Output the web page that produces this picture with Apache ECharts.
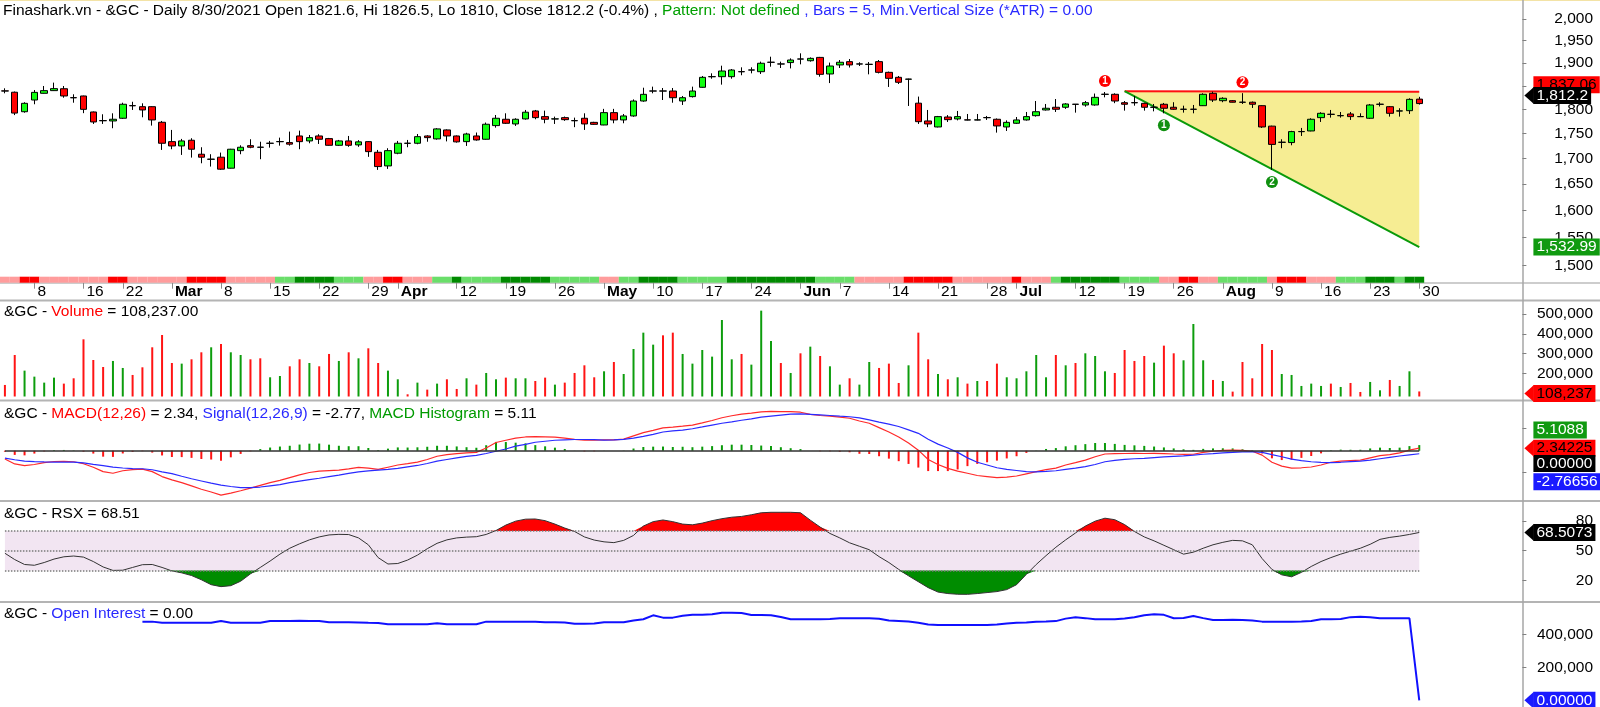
<!DOCTYPE html>
<html><head><meta charset="utf-8">
<script src="https://cdn.jsdelivr.net/npm/echarts@6/dist/echarts.min.js"></script>
<style>html,body{margin:0;padding:0;background:#fff}#c{width:1600px;height:707px}</style>
</head><body><div id="c"></div>
<script>
const FONT = '"Liberation Sans", Arial, Helvetica, sans-serif';
const FS = 15.5;

const dates = ['2/3','2/4','2/5','2/8','2/9','2/10','2/11','2/12','2/16','2/17','2/18','2/19','2/22','2/23','2/24','2/25','2/26',
'3/1','3/2','3/3','3/4','3/5','3/8','3/9','3/10','3/11','3/12','3/15','3/16','3/17','3/18','3/19','3/22','3/23','3/24','3/25','3/26','3/29','3/30','3/31',
'4/1','4/5','4/6','4/7','4/8','4/9','4/12','4/13','4/14','4/15','4/16','4/19','4/20','4/21','4/22','4/23','4/26','4/27','4/28','4/29','4/30',
'5/3','5/4','5/5','5/6','5/7','5/10','5/11','5/12','5/13','5/14','5/17','5/18','5/19','5/20','5/21','5/24','5/25','5/26','5/27','5/28',
'6/1','6/2','6/3','6/4','6/7','6/8','6/9','6/10','6/11','6/14','6/15','6/16','6/17','6/18','6/21','6/22','6/23','6/24','6/25','6/28','6/29','6/30',
'7/1','7/2','7/6','7/7','7/8','7/9','7/12','7/13','7/14','7/15','7/16','7/19','7/20','7/21','7/22','7/23','7/26','7/27','7/28','7/29','7/30',
'8/2','8/3','8/4','8/5','8/6','8/9','8/10','8/11','8/12','8/13','8/16','8/17','8/18','8/19','8/20','8/23','8/24','8/25','8/26','8/27','8/30'];
const blankBars = 10;

const tickDates = ['2/8','2/16','2/22','3/1','3/8','3/15','3/22','3/29','4/1','4/12','4/19','4/26','5/3','5/10','5/17','5/24','6/1','6/7','6/14','6/21','6/28','7/1','7/12','7/19','7/26','8/2','8/9','8/16','8/23','8/30'];
const tickTexts = ['8','16','22','Mar','8','15','22','29','Apr','12','19','26','May','10','17','24','Jun','7','14','21','28','Jul','12','19','26','Aug','9','16','23','30'];

const opens = [1839.2,1836.3,1795.0,1819.7,1834.0,1839.7,1843.8,1824.8,1828.3,1794.5,
1776.6,1775.8,1781.4,1807.9,1805.6,1805.6,1773.1,1733.5,1724.8,1736.3,
1708.2,1698.1,1702.3,1680.6,1715.4,1725.4,1722.4,1730.0,1733.3,1731.6,
1745.0,1734.9,1745.0,1739.6,1726.1,1734.9,1726.9,1733.5,1712.1,1685.1,
1710.2,1730.4,1730.2,1745.0,1739.0,1757.3,1745.0,1733.5,1745.0,1738.3,
1766.2,1779.3,1769.6,1780.0,1796.6,1784.8,1779.8,1782.7,1776.6,1781.4,
1772.9,1767.5,1793.1,1777.9,1786.2,1817.6,1838.7,1839.1,1838.9,1817.6,
1826.9,1846.9,1869.7,1869.9,1869.9,1881.0,1884.3,1880.8,1901.4,1898.0,
1900.9,1909.0,1905.0,1912.4,1875.8,1895.7,1903.0,1897.6,1896.8,1903.0,
1879.4,1868.5,1864.3,1813.0,1775.8,1763.4,1784.0,1780.0,1778.1,1777.7,
1782.9,1779.3,1763.4,1771.0,1777.9,1786.8,1798.7,1804.4,1804.4,1810.9,
1809.2,1809.2,1831.7,1831.9,1814.0,1814.2,1812.7,1804.2,1810.7,1804.4,
1800.0,1800.0,1807.7,1834.0,1818.3,1818.3,1815.2,1815.0,1807.7,1765.1,
1732.0,1731.6,1753.7,1755.2,1782.7,1789.8,1786.6,1790.3,1785.0,1781.4,
1810.5,1805.6,1796.4,1797.2,1821.6];
const highs = [1844.7,1837.8,1815.0,1841.1,1849.7,1857.0,1849.7,1831.9,1829.0,1795.5,
1789.7,1791.7,1814.0,1816.0,1812.7,1806.5,1775.8,1757.3,1739.0,1740.4,
1722.2,1708.2,1711.5,1719.0,1726.1,1738.3,1733.3,1734.9,1741.6,1753.9,
1755.9,1747.0,1748.5,1741.0,1736.9,1745.0,1736.5,1734.5,1716.8,1720.2,
1734.9,1736.9,1749.0,1746.5,1761.0,1758.5,1746.0,1751.5,1752.0,1772.5,
1788.2,1791.7,1781.4,1798.7,1798.7,1797.3,1784.8,1785.0,1782.7,1791.7,
1774.0,1801.0,1801.0,1790.3,1821.0,1846.0,1848.3,1845.4,1845.4,1828.3,
1848.3,1871.4,1877.2,1894.0,1886.7,1890.4,1890.4,1903.0,1914.0,1903.0,
1910.3,1921.5,1912.4,1913.5,1900.9,1906.6,1908.8,1901.6,1902.2,1906.6,
1881.0,1871.4,1865.5,1827.0,1798.7,1786.2,1788.0,1796.6,1790.3,1790.3,
1786.2,1781.0,1777.0,1784.0,1794.5,1817.6,1811.3,1821.8,1813.0,1811.0,
1817.6,1833.5,1836.8,1834.0,1817.6,1828.3,1814.0,1811.3,1813.5,1815.0,
1807.7,1809.2,1834.0,1837.5,1825.5,1819.5,1834.3,1816.5,1808.5,1766.0,
1738.3,1755.5,1761.4,1781.4,1794.0,1798.7,1794.5,1794.5,1791.7,1811.3,
1815.0,1807.0,1802.3,1823.4,1826.5];
const lows = [1834.0,1788.0,1793.0,1810.7,1833.5,1839.0,1824.6,1814.0,1792.0,1769.6,
1769.6,1760.8,1780.0,1798.7,1783.4,1766.2,1716.8,1718.2,1706.8,1701.5,
1690.3,1683.8,1677.3,1680.0,1708.2,1720.2,1698.3,1721.4,1725.4,1725.4,
1718.2,1730.2,1728.8,1725.5,1724.8,1723.0,1723.0,1703.0,1677.3,1679.2,
1708.2,1722.2,1728.2,1733.3,1737.5,1734.0,1731.5,1724.8,1735.5,1737.5,
1762.0,1769.6,1765.5,1778.5,1779.3,1771.0,1769.6,1776.0,1763.0,1757.3,
1768.0,1767.0,1771.0,1771.0,1784.5,1816.0,1834.0,1819.7,1814.0,1809.2,
1825.0,1846.0,1865.5,1852.6,1865.5,1873.0,1877.2,1875.8,1891.8,1888.9,
1888.0,1897.0,1903.0,1869.9,1856.0,1888.9,1890.0,1893.3,1875.0,1877.0,
1847.6,1854.0,1807.1,1769.6,1763.0,1762.5,1773.7,1777.0,1777.0,1777.0,
1777.9,1751.8,1755.2,1769.6,1776.6,1784.8,1797.5,1794.5,1801.0,1793.1,
1805.6,1807.7,1825.4,1813.0,1797.3,1807.7,1797.3,1795.8,1791.7,1799.0,
1793.1,1791.7,1807.0,1815.5,1815.0,1814.5,1811.3,1802.9,1761.4,1677.3,
1720.2,1726.1,1745.0,1754.5,1773.7,1782.7,1782.7,1777.9,1784.0,1780.0,
1806.0,1784.8,1784.8,1790.3,1810.0];
const closes = [1838.8,1792.2,1812.7,1836.0,1839.7,1844.0,1828.3,1824.4,1800.0,1773.7,
1776.2,1779.3,1810.7,1807.5,1798.7,1777.9,1730.2,1724.8,1734.9,1718.2,
1702.3,1698.5,1678.7,1718.2,1722.2,1722.2,1722.0,1730.4,1733.7,1728.4,
1733.5,1741.6,1738.3,1726.1,1734.9,1726.1,1733.0,1713.4,1683.8,1715.4,
1730.2,1730.0,1743.6,1741.6,1759.4,1745.0,1733.0,1749.0,1736.9,1769.0,
1781.4,1771.0,1779.3,1794.0,1782.7,1779.3,1780.2,1778.5,1776.2,1769.6,
1768.8,1793.1,1777.9,1786.2,1817.6,1831.8,1839.1,1838.7,1824.6,1824.6,
1838.9,1868.5,1870.1,1882.3,1884.5,1880.6,1884.7,1899.4,1901.8,1897.6,
1906.6,1908.6,1910.3,1875.0,1893.3,1901.6,1895.7,1898.0,1897.2,1879.4,
1866.3,1857.7,1864.7,1774.3,1769.6,1784.8,1778.5,1784.8,1777.7,1778.1,
1782.5,1765.5,1772.9,1777.9,1784.8,1795.0,1802.3,1800.2,1811.3,1810.5,
1814.0,1825.4,1832.1,1817.6,1810.7,1813.8,1804.4,1804.6,1802.3,1800.2,
1800.4,1800.4,1831.9,1819.7,1823.4,1815.0,1814.8,1810.7,1763.4,1727.9,
1732.4,1753.9,1754.1,1779.3,1791.7,1789.4,1787.0,1784.8,1784.6,1809.2,
1810.9,1791.7,1796.8,1821.1,1812.2];

const volumes = [141000,292700,213500,183100,152800,178100,147800,174700,371900,267400,
232000,262400,227000,191600,230300,331500,393800,252200,248900,270800,
306200,331500,348300,306200,292700,270800,275800,179800,186500,235400,
270800,252200,235400,297800,262400,306200,275800,326400,252200,213500,
169700,93800,152800,117400,147800,169700,120800,174700,142700,201700,
169700,178100,174700,174700,161200,178100,142700,152800,201700,240400,
179800,210100,257300,196600,323000,405600,344900,392100,405600,297800,
248900,318000,284300,469700,270800,297800,243800,516900,363500,252200,
201700,301100,334800,287600,235400,142700,174700,142700,257300,227000,
248900,151100,240400,405600,270800,196600,169700,179800,147800,161200,
161200,248900,179800,174700,210100,292700,179800,292700,240400,252200,
301100,287600,210100,201700,318000,262400,287600,253900,339900,301100,
265700,449400,265700,166300,161200,107300,257300,174700,348300,318000,
196600,191600,136000,147800,136000,147800,130900,151100,105600,156200,
114000,166300,136000,210100,108237];

const macd = [-7.6,-12.0,-13.6,-12.5,-10.8,-9.8,-9.6,-10.0,-11.8,-15.0,
-19.0,-20.5,-18.2,-17.2,-16.8,-19.0,-23.5,-26.5,-29.0,-32.0,
-35.0,-37.5,-40.3,-38.5,-36.4,-34.0,-31.5,-29.0,-27.0,-24.5,
-22.0,-19.8,-18.5,-18.0,-17.6,-16.5,-15.1,-15.8,-17.0,-15.0,
-13.0,-11.8,-10.3,-8.0,-5.0,-3.5,-2.6,-2.0,-1.5,2.5,
7.5,9.5,11.5,12.5,12.8,12.6,12.3,11.5,10.3,9.6,
9.5,9.8,9.9,10.5,13.5,16.5,18.5,20.8,21.5,22.3,
23.2,25.3,27.5,30.0,31.8,33.2,34.2,35.3,35.8,35.6,
35.5,35.0,33.0,32.0,31.5,30.5,29.5,27.0,25.0,21.0,
17.0,12.5,7.0,0.5,-8.0,-12.5,-16.0,-18.5,-20.5,-22.5,
-23.5,-24.5,-24.0,-23.0,-21.0,-19.0,-17.2,-15.8,-13.0,-10.8,
-8.5,-5.5,-3.0,-2.6,-2.5,-2.4,-2.5,-2.4,-2.6,-3.0,
-3.3,-3.2,-1.5,-0.5,0.3,0.6,0.3,-0.5,-4.0,-10.5,
-14.0,-15.8,-15.5,-14.8,-13.0,-10.5,-9.5,-9.0,-8.5,-6.5,
-4.5,-3.5,-2.0,0.5,2.34];
const signal = [-6.7,-8.2,-9.4,-9.9,-10.2,-10.3,-10.3,-10.3,-11.0,-12.4,
-13.6,-14.9,-15.7,-16.2,-16.4,-17.3,-19.2,-20.8,-23.2,-25.5,
-27.5,-29.5,-31.2,-32.5,-33.5,-33.5,-33.0,-31.9,-30.8,-29.0,
-27.6,-26.2,-25.0,-23.5,-22.1,-20.6,-19.2,-18.3,-17.6,-16.9,
-16.0,-14.7,-13.4,-11.6,-9.5,-8.0,-6.5,-5.2,-4.2,-2.5,
-0.5,1.6,4.2,5.8,7.7,8.6,9.5,9.9,10.2,10.2,
10.0,9.7,9.9,10.3,11.5,13.1,14.8,17.0,18.1,18.7,
20.0,21.6,23.3,25.0,26.3,27.7,29.0,30.6,31.5,32.4,
33.2,33.5,33.0,32.5,32.0,31.4,30.9,29.8,28.0,26.0,
24.2,22.0,19.0,15.8,10.5,6.0,2.5,-1.5,-6.5,-10.5,
-13.0,-15.5,-17.0,-18.0,-19.0,-19.2,-18.8,-18.2,-17.0,-15.8,
-14.5,-12.5,-10.0,-8.8,-7.8,-7.3,-6.9,-6.2,-5.6,-5.1,
-4.6,-4.0,-3.2,-2.6,-1.9,-1.5,-1.0,-0.9,-1.5,-3.6,
-5.5,-7.6,-9.0,-10.0,-10.6,-10.9,-10.5,-9.9,-9.4,-8.6,
-7.3,-6.0,-4.8,-3.7,-2.77];

const rsx = [47.4,41.0,36.0,35.2,38.0,41.5,43.8,44.6,43.5,39.0,
33.5,30.0,30.2,33.0,35.8,36.0,33.0,29.5,27.5,24.8,
20.5,15.5,13.5,14.5,19.0,26.5,33.0,39.5,46.5,52.5,
57.0,61.0,64.0,66.0,66.6,66.4,63.0,56.0,43.0,36.5,
37.0,40.5,45.5,52.0,57.5,61.0,63.0,63.8,64.2,66.5,
70.5,76.0,80.0,82.0,82.2,80.5,77.0,73.0,69.5,64.0,
60.8,59.0,58.2,60.5,65.5,75.0,79.5,81.2,79.5,77.0,
76.3,78.0,80.5,82.5,84.0,84.8,86.5,88.5,89.0,89.0,
89.0,88.5,81.0,74.0,67.5,63.0,58.0,54.5,51.0,44.0,
38.0,31.0,24.5,18.5,12.5,8.0,6.5,5.8,5.7,6.5,
7.5,8.5,10.5,15.5,26.0,36.0,45.0,53.5,61.0,68.0,
75.0,80.0,83.0,81.5,76.5,69.5,64.0,60.0,55.5,51.0,
46.5,48.5,52.5,56.0,58.5,60.5,60.0,56.0,42.0,31.0,
25.5,23.5,28.0,34.0,39.0,43.0,46.5,49.5,52.5,56.5,
61.5,63.5,64.8,66.5,68.51];
const rsxUpper = 70, rsxMid = 50, rsxLower = 30;

const openInterest = [null,null,null,null,null,null,null,null,null,null,null,null,null,null,
476800,476800,469700,469700,469700,469700,469700,470000,480800,469700,469700,469700,470500,
480800,480800,480800,481500,481000,480000,472700,472700,472700,472000,469700,469000,
460600,460600,460600,460600,461000,466700,460600,460600,460600,461000,
476800,476800,476800,476800,476800,476000,472700,472700,472000,464600,464600,465000,
472700,472700,472700,484000,490900,515000,501000,501000,512000,519000,519000,521000,
531000,531000,529000,517000,517000,516000,505000,491000,491000,491000,491000,493000,
497000,497000,497000,497000,494000,483000,481000,478000,470000,460000,
456600,456600,456600,456600,456600,457000,459000,466000,470700,472000,476800,477000,480000,
495000,503000,498000,491000,491000,491000,496000,503000,516000,521000,518000,497000,499000,511000,498000,
486900,486900,488000,486900,484000,476800,476800,476800,476800,477000,480000,
491000,491000,493000,504000,507000,503000,497000,497000,497000,497000,0];

// ribbon state per bar: 0 light red, 1 red, 2 light green, 3 dark green
const ribbon = [0,0,1,1,0,0,0,0,0,0,0,1,1,0,0,0,0,0,0,1,1,1,1,0,0,0,0,0,2,2,3,3,3,3,2,2,2,0,0,1,1,0,0,0,2,2,3,2,2,2,2,
3,3,3,3,3,2,2,2,2,2,0,0,2,2,3,3,3,3,2,2,2,2,2,3,3,3,3,3,3,3,3,3,2,2,2,2,0,0,0,0,0,1,1,1,1,1,0,0,0,0,0,0,1,0,0,0,2,
3,3,3,3,3,3,2,2,2,2,0,0,1,1,0,0,2,2,2,2,2,0,1,1,1,0,0,0,2,2,2,3,3,3,2,3,3];
const ribbonColors = ['#ff9c9c','#ff0000','#6ade6a','#008a00'];

// pattern (triangle) definition
const patternStart = 114, patternEnd = 144;
const patternApex = 1838.5, patternUpperEnd = 1837.06, patternLowerEnd = 1532.99;
const patternHighIdx = [112, 126];
const patternLowIdx = [118, 129];

const priceTicks = [1500,1550,1600,1650,1700,1750,1800,1850,1900,1950,2000];
const volumeTicks = [200000,300000,400000,500000];
const macdTicks = [-20, 20];
const rsxTicks = [20,50,80];
const oiTicks = [200000,400000];

// ---------- build ----------
const N = dates.length;
const cats = dates.concat(Array.from({length: blankBars}, (_, k) => 'blank' + k));
const fmt = v => Math.round(v).toLocaleString('en-US');
const hist = macd.map((m, i) => +(m - signal[i]).toFixed(3));
const upBar = closes.map((c, i) => c >= opens[i]);

const L = -4, R = 77.6;
const labelMargin = 70.6;
const tagDist = 11;
const axisTxt = {fontSize: FS, color: '#000', fontFamily: FONT};

function tagSeries(xi, yi, items) {
  return {
    type: 'line', xAxisIndex: xi, yAxisIndex: yi, silent: true, symbol: 'none', clip: false, z: 10,
    data: dates.map(() => null),
    markLine: {
      silent: true, animation: false, symbol: ['none', 'none'], z: 10,
      lineStyle: {width: 0, color: 'rgba(0,0,0,0)'},
      label: {show: true, position: 'end', distance: tagDist, fontSize: FS, fontFamily: FONT,
              padding: [2, 3, 0, 3], lineHeight: 15},
      data: items.map(t => ({yAxis: t.v, label: {formatter: t.text, backgroundColor: t.bg, color: t.fg, offset: [0, t.dy || 0]}}))
    }
  };
}

const xAxes = [0,1,2,3,4,5].map(k => {
  const ax = {type: 'category', gridIndex: k, data: cats, boundaryGap: true, show: k === 1};
  if (k === 1) {
    const isTick = (idx) => tickDates.indexOf(cats[idx]) >= 0;
    ax.axisLine = {show: false};
    ax.axisTick = {show: true, alignWithLabel: true, interval: (idx) => isTick(idx), length: 6, lineStyle: {color: '#8a8a8a'}};
    ax.axisLabel = {show: true, interval: (idx) => isTick(idx), align: 'left', margin: 1, padding: [0, 0, 0, 3],
      fontSize: FS, color: '#000', fontFamily: FONT,
      formatter: (val) => { const t = tickTexts[tickDates.indexOf(val)]; return isNaN(+t) ? '{b|' + t + '}' : t; },
      rich: {b: {fontSize: FS, fontWeight: 'bold', color: '#000', fontFamily: FONT}}};
  }
  return ax;
});

function rightAxis(k, min, max, ticks, showLabels, type) {
  return {
    type: type || 'value', gridIndex: k, position: 'right', min, max,
    splitLine: {show: false}, axisLine: {show: false},
    axisTick: {show: true, length: 4, lineStyle: {color: '#808080'}, customValues: ticks},
    axisLabel: Object.assign({show: showLabels, customValues: ticks, formatter: v => fmt(v), align: 'right', margin: labelMargin}, axisTxt)
  };
}

const yAxes = [
  rightAxis(0, 1480.86, 2044.81, priceTicks, true, 'log'),
  {type: 'value', gridIndex: 1, min: 0, max: 1, show: false},
  rightAxis(2, 82650, 565700, volumeTicks, true),
  rightAxis(3, -45.7, 45.2, macdTicks, false),
  rightAxis(4, -2.08, 100.46, rsxTicks, true),
  rightAxis(5, 0, 595760, oiTicks, true),
  {type: 'value', gridIndex: 3, min: -5.71, max: 9.52, show: false}
];

const rs = (color, w) => ({color, fontSize: FS, fontWeight: w || 'normal', fontFamily: FONT});
const tStyle = (rich) => ({fontSize: FS, fontWeight: 'normal', fontFamily: FONT, color: '#000', rich});
const withComma = s => s.replace(/\B(?=(\d{3})+(?!\d))/, ',');

const baseGraphic = [
  {id: 'gTop', type: 'line', silent: true, shape: {x1: 0, y1: 0.5, x2: 1600, y2: 0.5}, style: {stroke: '#f3e3a6', lineWidth: 1}},
  {id: 'gS0', type: 'line', silent: true, shape: {x1: 0, y1: 283, x2: 1600, y2: 283}, style: {stroke: '#bcbcbc', lineWidth: 1.5}},
  {id: 'gS1', type: 'line', silent: true, shape: {x1: 0, y1: 300.5, x2: 1600, y2: 300.5}, style: {stroke: '#b4b4b4', lineWidth: 2}},
  {id: 'gS2', type: 'line', silent: true, shape: {x1: 0, y1: 400.5, x2: 1600, y2: 400.5}, style: {stroke: '#b4b4b4', lineWidth: 2}},
  {id: 'gS3', type: 'line', silent: true, shape: {x1: 0, y1: 501, x2: 1600, y2: 501}, style: {stroke: '#b4b4b4', lineWidth: 2}},
  {id: 'gS4', type: 'line', silent: true, shape: {x1: 0, y1: 602, x2: 1600, y2: 602}, style: {stroke: '#b4b4b4', lineWidth: 2}},
  {id: 'gV', type: 'line', silent: true, shape: {x1: 1523, y1: 0, x2: 1523, y2: 707}, style: {stroke: '#a6a6a6', lineWidth: 1.5}}
];

const option = {
  animation: false,
  backgroundColor: '#ffffff',
  textStyle: {fontFamily: FONT},
  title: [
    {left: 3, top: 3, padding: 0, text: '{k|Finashark.vn - &GC - Daily 8/30/2021 Open 1821.6, Hi 1826.5, Lo 1810, Close 1812.2 (-0.4%) , }{g|Pattern: Not defined}{b| , Bars = 5, Min.Vertical Size (*ATR) = 0.00}',
     textStyle: tStyle({k: rs('#000'), g: rs('#00a000'), b: rs('#2a2aff')})},
    {left: 4, top: 304, padding: 0, text: '{k|&GC - }{r|Volume}{k| = 108,237.00}', textStyle: tStyle({k: rs('#000'), r: rs('#ff0000')})},
    {left: 4, top: 405.5, padding: 0, text: '{k|&GC - }{r|MACD(12,26)}{k| = 2.34, }{b|Signal(12,26,9)}{k| = -2.77, }{g|MACD Histogram}{k| = 5.11}',
     textStyle: tStyle({k: rs('#000'), r: rs('#ff0000'), b: rs('#2a2aff'), g: rs('#009a00')})},
    {left: 4, top: 505.5, padding: 0, text: '{k|&GC - RSX = 68.51}', textStyle: tStyle({k: rs('#000')})},
    {left: 4, top: 605.5, padding: 0, text: '{k|&GC - }{b|Open Interest}{k| = 0.00}', textStyle: tStyle({k: rs('#000'), b: rs('#2a2aff')})}
  ],
  grid: [
    {left: L, right: R, top: 0, height: 276.7},
    {left: L, right: R, top: 276.7, height: 6},
    {left: L, right: R, top: 301, height: 95.5},
    {left: L, right: R, top: 401, height: 100},
    {left: L, right: R, top: 501, height: 101},
    {left: L, right: R, top: 602, height: 98.3}
  ],
  xAxis: xAxes,
  yAxis: yAxes,
  graphic: baseGraphic,
  series: [
    // yellow triangle pattern
    {type: 'custom', xAxisIndex: 0, yAxisIndex: 0, z: 1, silent: true,
     data: [[patternStart, patternEnd, patternApex, patternUpperEnd, patternLowerEnd]],
     encode: {x: [0, 1], y: [2, 3, 4]},
     renderItem: (params, api) => {
       const a = api.coord([api.value(0), api.value(2)]);
       const b = api.coord([api.value(1), api.value(3)]);
       const c = api.coord([api.value(1), api.value(4)]);
       return {type: 'polygon', shape: {points: [a, b, c]}, style: {fill: '#f6ed93'}};
     }},
    {type: 'line', xAxisIndex: 0, yAxisIndex: 0, z: 2, silent: true, symbol: 'none',
     data: [[patternStart, patternApex], [patternEnd, patternUpperEnd]], lineStyle: {color: '#ff1010', width: 2}},
    {type: 'line', xAxisIndex: 0, yAxisIndex: 0, z: 2, silent: true, symbol: 'none',
     data: [[patternStart, patternApex], [patternEnd, patternLowerEnd]], lineStyle: {color: '#0a9a0a', width: 2}},
    {type: 'candlestick', xAxisIndex: 0, yAxisIndex: 0, z: 3, silent: true, barWidth: 7,
     data: opens.map((o, i) => [o, closes[i], lows[i], highs[i]]),
     itemStyle: {color: '#11ff11', color0: '#ff0000', borderColor: '#000', borderColor0: '#000', borderColorDoji: '#000', borderWidth: 1},
     markPoint: {silent: true, animation: false, symbol: 'circle', symbolSize: 12,
       label: {show: true, color: '#fff', fontSize: 10, fontWeight: 'bold', fontFamily: FONT},
       data: patternHighIdx.map((idx, k) => ({coord: [cats[idx], highs[idx]], symbolOffset: [0, -11], itemStyle: {color: '#ff0000'}, label: {formatter: String(k + 1)}}))
         .concat(patternLowIdx.map((idx, k) => ({coord: [cats[idx], lows[idx]], symbolOffset: [0, 12], itemStyle: {color: '#109010'}, label: {formatter: String(k + 1)}})))}},
    tagSeries(0, 0, [
      {v: patternUpperEnd, text: withComma(patternUpperEnd.toFixed(2)), bg: '#ff0000', fg: '#000', dy: -7},
      {v: closes[N - 1], text: withComma(closes[N - 1].toFixed(1)), bg: '#000', fg: '#fff', dy: -8},
      {v: patternLowerEnd, text: withComma(patternLowerEnd.toFixed(2)), bg: '#109a10', fg: '#fff'}
    ]),
    // ribbon
    {type: 'bar', xAxisIndex: 1, yAxisIndex: 1, silent: true, barCategoryGap: '0%',
     data: ribbon.map(s => ({value: 1, itemStyle: {color: ribbonColors[s]}}))},
    // volume
    {type: 'bar', xAxisIndex: 2, yAxisIndex: 2, silent: true, barWidth: 2, clip: true,
     data: volumes.map((v, i) => ({value: v, itemStyle: {color: upBar[i] ? '#0d9d0d' : '#ff1414'}}))},
    tagSeries(2, 2, [{v: volumes[N - 1], text: fmt(volumes[N - 1]), bg: '#ff0000', fg: '#000', dy: 2}]),
    // MACD histogram
    {type: 'bar', xAxisIndex: 3, yAxisIndex: 3, silent: true, barWidth: 2,
     data: hist.map(h => ({value: h, itemStyle: {color: h >= 0 ? '#0a9a0a' : '#ff1414'}})),
     markLine: {silent: true, animation: false, symbol: ['none', 'none'], label: {show: false},
       lineStyle: {color: '#303030', width: 1.5, type: 'solid'},
       data: [[{coord: [cats[0], 0]}, {coord: [cats[N - 1], 0]}]]}},
    {type: 'line', xAxisIndex: 3, yAxisIndex: 3, silent: true, symbol: 'none', data: macd, lineStyle: {color: '#ff2a2a', width: 1.2}},
    {type: 'line', xAxisIndex: 3, yAxisIndex: 3, silent: true, symbol: 'none', data: signal, lineStyle: {color: '#2a2aff', width: 1.2}},
    tagSeries(3, 6, [
      {v: hist[N - 1], text: '5.1088', bg: '#109a10', fg: '#fff'},
      {v: macd[N - 1], text: '2.34225', bg: '#ff0000', fg: '#000'},
      {v: 0, text: '0.00000', bg: '#000', fg: '#fff'},
      {v: signal[N - 1], text: '-2.76656', bg: '#1a1aff', fg: '#fff'}
    ]),
    // RSX fills
    {type: 'line', xAxisIndex: 4, yAxisIndex: 4, silent: true, symbol: 'none', stack: 'ob', data: rsx.map(() => rsxUpper), lineStyle: {opacity: 0},
     markArea: {silent: true, itemStyle: {color: '#f2e5f2'}, data: [[{coord: [cats[0], rsxLower]}, {coord: [cats[N - 1], rsxUpper]}]]}},
    {type: 'line', xAxisIndex: 4, yAxisIndex: 4, silent: true, symbol: 'none', stack: 'ob', data: rsx.map(v => Math.max(v - rsxUpper, 0)),
     lineStyle: {opacity: 0}, areaStyle: {color: '#ff0000', opacity: 1}},
    {type: 'line', xAxisIndex: 4, yAxisIndex: 4, silent: true, symbol: 'none', stack: 'os', data: rsx.map(v => Math.min(v, rsxLower)), lineStyle: {opacity: 0}},
    {type: 'line', xAxisIndex: 4, yAxisIndex: 4, silent: true, symbol: 'none', stack: 'os', data: rsx.map(v => rsxLower - Math.min(v, rsxLower)),
     lineStyle: {opacity: 0}, areaStyle: {color: '#008c00', opacity: 1}},
    {type: 'line', xAxisIndex: 4, yAxisIndex: 4, silent: true, symbol: 'none', data: rsx, lineStyle: {color: '#333', width: 1},
     markLine: {silent: true, animation: false, symbol: ['none', 'none'], label: {show: false},
       lineStyle: {color: '#7a7a7a', width: 1.5, type: 'dotted'},
       data: [rsxUpper, rsxMid, rsxLower].map(v => [{coord: [cats[0], v]}, {coord: [cats[N - 1], v]}])}},
    tagSeries(4, 4, [{v: rsx[N - 1], text: '68.5073', bg: '#000', fg: '#fff'}]),
    // Open interest
    {type: 'line', xAxisIndex: 5, yAxisIndex: 5, silent: true, symbol: 'none', data: openInterest, lineStyle: {color: '#1010ff', width: 2}},
    tagSeries(5, 5, [{v: openInterest[N - 1], text: '0.00000', bg: '#1a1aff', fg: '#fff'}])
  ]
};

const chart = echarts.init(document.getElementById('c'), null, {renderer: 'canvas'});
chart.setOption(option);

// arrow heads on the "last value" tags, positioned through the axes' own scales
const arrowTags = [
  {yi: 0, v: closes[N - 1], dy: -8, bg: '#000'},
  {yi: 2, v: volumes[N - 1], dy: 2, bg: '#ff0000'},
  {yi: 6, v: macd[N - 1], dy: 0, bg: '#ff0000'},
  {yi: 4, v: rsx[N - 1], dy: 0, bg: '#000'},
  {yi: 5, v: openInterest[N - 1], dy: 0, bg: '#1a1aff'}
];
const tagX = 1600 - R + tagDist;
const arrows = arrowTags.map((a, k) => {
  const y = chart.convertToPixel({yAxisIndex: a.yi}, a.v) + a.dy;
  return {id: 'arr' + k, type: 'polygon', silent: true, z: 100,
          shape: {points: [[tagX - 9, y], [tagX + 0.5, y - 8.5], [tagX + 0.5, y + 8.5]]}, style: {fill: a.bg}};
});
chart.setOption({graphic: baseGraphic.concat(arrows)});
</script>
</body></html>
